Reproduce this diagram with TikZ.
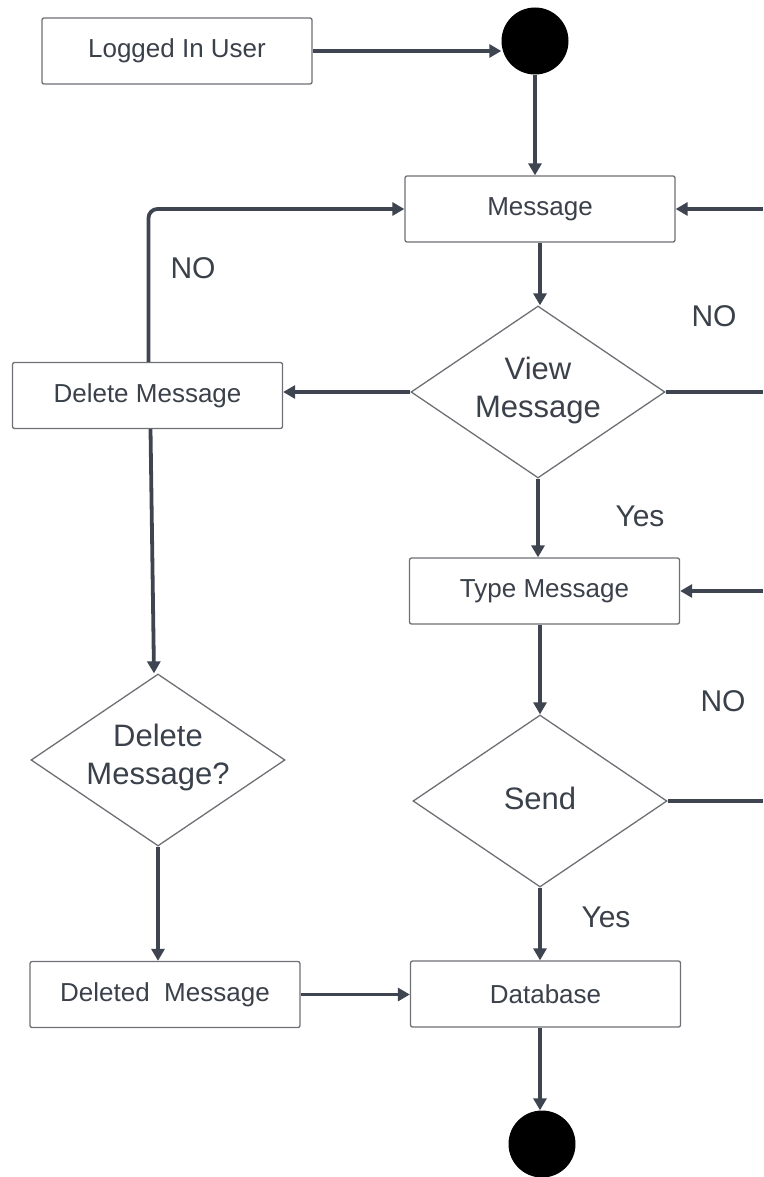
\documentclass[tikz,border=0pt]{standalone}
\usepackage{fontspec}
\setmainfont{Liberation Sans}
\usetikzlibrary{arrows.meta,shapes.geometric}
\definecolor{lineC}{HTML}{3E4450}
\definecolor{textC}{HTML}{3A414A}
\definecolor{borderC}{HTML}{6E7075}
\tikzset{
  boxnode/.style={draw=borderC, line width=1.3pt, rounded corners=2pt, fill=white,
    minimum width=270pt, minimum height=66pt, inner sep=0pt, text=textC,
    font=\fontsize{26}{30}\selectfont},
  dianode/.style={draw=borderC, line width=1.3pt, diamond, fill=white, inner sep=0pt,
    minimum width=254pt, minimum height=172pt},
  diatext/.style={text=textC, align=center, font=\fontsize{31}{38}\selectfont, inner sep=0pt},
  lbl/.style={text=textC, font=\fontsize{30}{36}\selectfont, inner sep=0pt},
  blob/.style={circle, fill=black, minimum size=67pt, inner sep=0pt},
  conn/.style={draw=lineC, line width=3.8pt},
  arr/.style={conn, -{Triangle[length=12pt,width=13pt]}},
}
\begin{document}
\begin{tikzpicture}[x=1pt,y=-1pt]
\useasboundingbox (0,0) rectangle (763,1177);
% nodes
\node[boxnode] (logged) at (177,51) {Logged In User};
\node[blob] (start) at (535,41) {};
\node[boxnode] (msg) at (540,209) {Message};
\node[dianode] (view) at (538,392) {};
\node[diatext] (viewt) at (538,390) {View\\Message};
\node[boxnode] (delbox) at (147.5,395.5) {Delete Message};
\node[boxnode] (type) at (544.5,591) {Type Message};
\node[dianode] (send) at (540,801) {};
\node[diatext] (sendt) at (540,798) {Send};
\node[dianode] (deldia) at (158,760) {};
\node[diatext] (deldiat) at (158,757) {Delete\\Message?};
\node[boxnode] (deleted) at (165,994.5) {Deleted\ \ Message};
\node[boxnode] (db) at (545.5,994) {Database};
\node[blob] (end) at (542,1144) {};
% free ends at the right edge
\coordinate (r1) at (763,209);
\coordinate (r2) at (763,392);
\coordinate (r3) at (763,591);
\coordinate (r4) at (763,801);
% labels
\node[lbl] (no1) at (193,268) {NO};
\node[lbl] (no2) at (714,316) {NO};
\node[lbl] (yes1) at (640,516) {Yes};
\node[lbl] (no3) at (723,701) {NO};
\node[lbl] (yes2) at (606,917) {Yes};
% connectors
\draw[arr] (logged.east) -- (logged.east -| start.west);
\draw[arr] (start.south) -- (start.south |- msg.north);
\draw[arr, rounded corners=9pt] ([xshift=1pt]delbox.north) |- (msg.west);
\draw[arr] (r1) -- (msg.east);
\draw[arr] (msg.south) -- (msg.south |- view.north);
\draw[arr] (view.west) -- (view.west -| delbox.east);
\draw[conn] (view.east) -- (r2);
\draw[arr] (view.south) -- (view.south |- type.north);
\draw[arr] (r3) -- (type.east);
\draw[arr] (send.north |- type.south) -- (send.north);
\draw[conn] (send.east) -- (r4);
\draw[arr] (send.south) -- (send.south |- db.north);
\draw[arr] (send.south |- db.south) -- (send.south |- end.north);
\draw[arr] ([xshift=3pt]delbox.south) -- ([xshift=-4pt]deldia.north);
\draw[arr] (deldia.south) -- (deldia.south |- deleted.north);
\draw[arr] (deleted.east) -- (deleted.east -| db.west);
\end{tikzpicture}
\end{document}
